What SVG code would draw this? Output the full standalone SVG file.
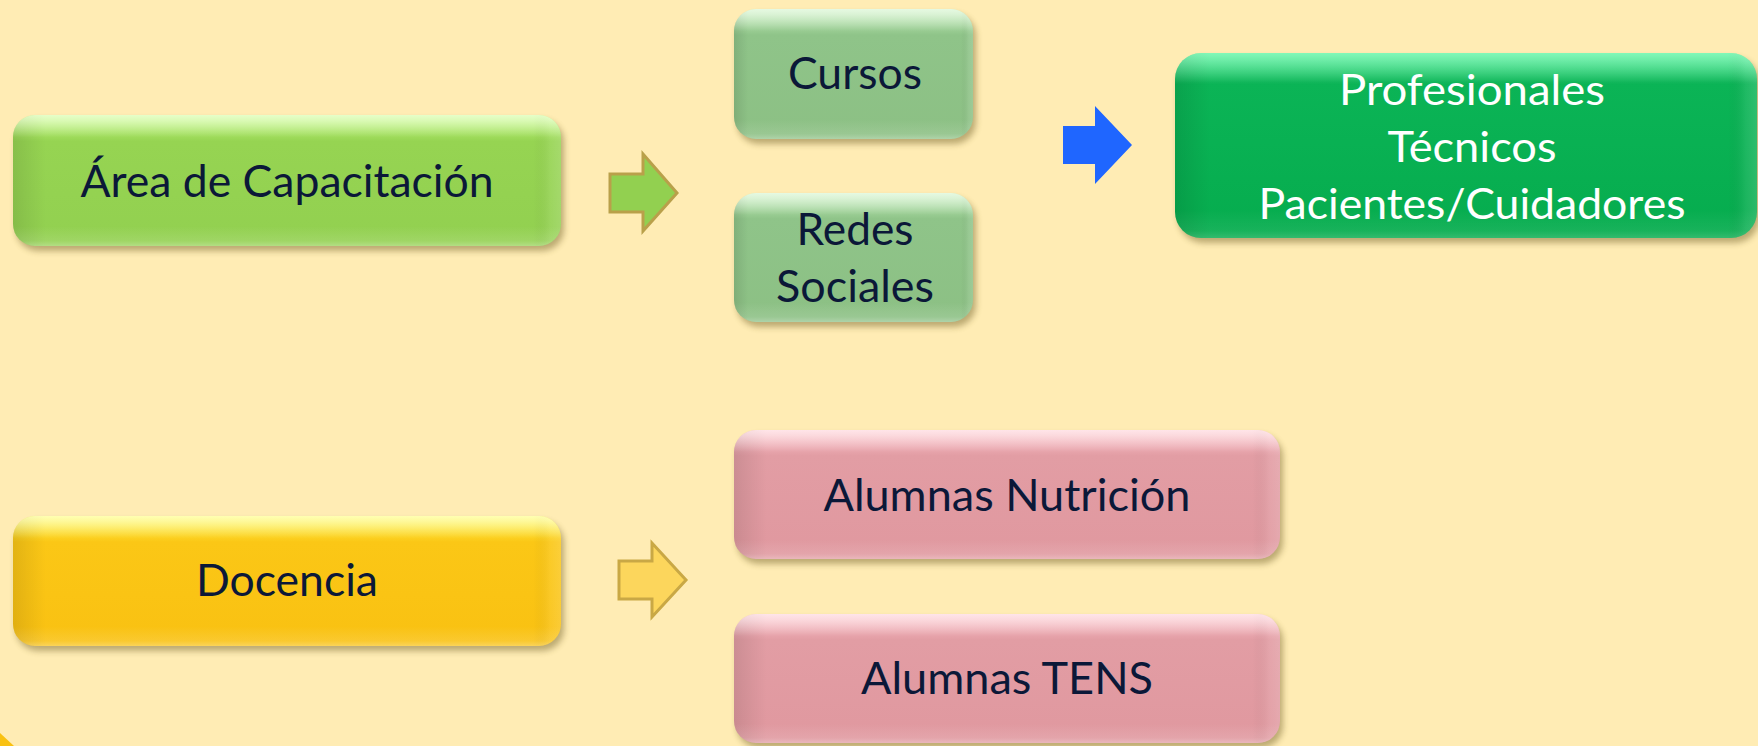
<svg xmlns="http://www.w3.org/2000/svg" width="1758" height="746" viewBox="0 0 1758 746">
<defs>
<filter id="sh" x="-10%" y="-10%" width="120%" height="130%">
<feGaussianBlur stdDeviation="3"/>
</filter>
<linearGradient id="vhi" x1="0" y1="0" x2="0" y2="1">
<stop offset="0" stop-color="#fff" stop-opacity="0.55"/>
<stop offset="0.04" stop-color="#fff" stop-opacity="0.45"/>
<stop offset="0.17" stop-color="#fff" stop-opacity="0"/>
<stop offset="0.85" stop-color="#fff" stop-opacity="0"/>
<stop offset="0.96" stop-color="#fff" stop-opacity="0.12"/>
<stop offset="1" stop-color="#fff" stop-opacity="0.3"/>
</linearGradient>
<linearGradient id="hsd" x1="0" y1="0" x2="1" y2="0">
<stop offset="0" stop-color="#000" stop-opacity="0.10"/>
<stop offset="0.035" stop-color="#000" stop-opacity="0.04"/>
<stop offset="0.06" stop-color="#000" stop-opacity="0"/>
<stop offset="0.95" stop-color="#000" stop-opacity="0"/>
<stop offset="0.98" stop-color="#fff" stop-opacity="0.08"/>
<stop offset="1" stop-color="#fff" stop-opacity="0.15"/>
</linearGradient>
<linearGradient id="gArea" x1="0" y1="0" x2="0" y2="1">
<stop offset="0" stop-color="#C8FF86"/><stop offset="0.2" stop-color="#96D452"/><stop offset="1" stop-color="#92D050"/>
</linearGradient>
<linearGradient id="gSoft" x1="0" y1="0" x2="0" y2="1">
<stop offset="0" stop-color="#C8F2BE"/><stop offset="0.2" stop-color="#8FC489"/><stop offset="1" stop-color="#8CC084"/>
</linearGradient>
<linearGradient id="gDark" x1="0" y1="0" x2="0" y2="1">
<stop offset="0" stop-color="#45F596"/><stop offset="0.16" stop-color="#0BB456"/><stop offset="1" stop-color="#06AC4E"/>
</linearGradient>
<linearGradient id="gYel" x1="0" y1="0" x2="0" y2="1">
<stop offset="0" stop-color="#FFFF55"/><stop offset="0.2" stop-color="#FBC716"/><stop offset="1" stop-color="#F9C112"/>
</linearGradient>
<linearGradient id="gPink" x1="0" y1="0" x2="0" y2="1">
<stop offset="0" stop-color="#FFC4CC"/><stop offset="0.2" stop-color="#E29DA4"/><stop offset="1" stop-color="#E0989F"/>
</linearGradient>
</defs>
<style>
.t{font-family:Lato,"Open Sans","Liberation Sans",sans-serif;font-size:44px;fill:#0B1838;text-anchor:middle}
.w{font-family:Lato,"Open Sans","Liberation Sans",sans-serif;font-size:43px;fill:#FFFFFF;text-anchor:middle}
.shd{fill:#6B5A20;opacity:0.45;filter:url(#sh)}
.hi{fill:url(#vhi)}
.sd{fill:url(#hsd)}
</style>
<rect width="1758" height="746" fill="#FFECB4"/>
<polygon points="0,733 14,746 0,746" fill="#F9C112"/>

<g id="area">
<rect class="shd" x="16" y="120" width="548" height="131" rx="22"/>
<rect x="13" y="115" width="548" height="131" rx="22" fill="url(#gArea)"/>
<rect class="sd" x="13" y="115" width="548" height="131" rx="22"/>
<rect class="hi" x="13" y="115" width="548" height="131" rx="22"/>
<text class="t" x="287" y="197" textLength="413" lengthAdjust="spacingAndGlyphs">Área de Capacitación</text>
</g>

<g id="cursos">
<rect class="shd" x="737" y="14" width="239" height="130" rx="22"/>
<rect x="734" y="9" width="239" height="130" rx="22" fill="url(#gSoft)"/>
<rect class="sd" x="734" y="9" width="239" height="130" rx="22"/>
<rect class="hi" x="734" y="9" width="239" height="130" rx="22"/>
<text class="t" x="855" y="89" textLength="134" lengthAdjust="spacingAndGlyphs">Cursos</text>
</g>

<g id="redes">
<rect class="shd" x="737" y="198" width="239" height="129" rx="22"/>
<rect x="734" y="193" width="239" height="129" rx="22" fill="url(#gSoft)"/>
<rect class="sd" x="734" y="193" width="239" height="129" rx="22"/>
<rect class="hi" x="734" y="193" width="239" height="129" rx="22"/>
<text class="t" x="855" y="245" textLength="117" lengthAdjust="spacingAndGlyphs">Redes</text>
<text class="t" x="855" y="302" textLength="158" lengthAdjust="spacingAndGlyphs">Sociales</text>
</g>

<g id="destinatarios">
<rect class="shd" x="1178" y="58" width="582" height="185" rx="26"/>
<rect x="1175" y="53" width="582" height="185" rx="26" fill="url(#gDark)"/>
<rect class="sd" x="1175" y="53" width="582" height="185" rx="26"/>
<rect class="hi" x="1175" y="53" width="582" height="185" rx="26" opacity="0.6"/>
<text class="w" x="1472" y="105" textLength="266" lengthAdjust="spacingAndGlyphs">Profesionales</text>
<text class="w" x="1472" y="162" textLength="169" lengthAdjust="spacingAndGlyphs">Técnicos</text>
<text class="w" x="1472" y="219" textLength="427" lengthAdjust="spacingAndGlyphs">Pacientes/Cuidadores</text>
</g>

<g id="docencia">
<rect class="shd" x="16" y="521" width="548" height="130" rx="22"/>
<rect x="13" y="516" width="548" height="130" rx="22" fill="url(#gYel)"/>
<rect class="sd" x="13" y="516" width="548" height="130" rx="22"/>
<rect class="hi" x="13" y="516" width="548" height="130" rx="22"/>
<text class="t" x="287" y="596" textLength="182" lengthAdjust="spacingAndGlyphs">Docencia</text>
</g>

<g id="nutricion">
<rect class="shd" x="737" y="435" width="546" height="129" rx="22"/>
<rect x="734" y="430" width="546" height="129" rx="22" fill="url(#gPink)"/>
<rect class="sd" x="734" y="430" width="546" height="129" rx="22"/>
<rect class="hi" x="734" y="430" width="546" height="129" rx="22"/>
<text class="t" x="1007" y="511" textLength="367" lengthAdjust="spacingAndGlyphs">Alumnas Nutrición</text>
</g>

<g id="tens">
<rect class="shd" x="737" y="619" width="546" height="129" rx="22"/>
<rect x="734" y="614" width="546" height="129" rx="22" fill="url(#gPink)"/>
<rect class="sd" x="734" y="614" width="546" height="129" rx="22"/>
<rect class="hi" x="734" y="614" width="546" height="129" rx="22"/>
<text class="t" x="1007" y="694" textLength="292" lengthAdjust="spacingAndGlyphs">Alumnas TENS</text>
</g>

<g id="connectors">
<polygon points="610,174 643,174 643,154 677,193 643,231 643,212 610,212" fill="#92D050" stroke="#B9A04A" stroke-width="3" stroke-linejoin="miter"/>
<polygon points="1063,126 1095,126 1095,106 1132,145 1095,184 1095,164 1063,164" fill="#1F66FF"/>
<polygon points="619,561 652,561 652,543 686,580 652,617 652,599 619,599" fill="#FCD65C" stroke="#C9A845" stroke-width="3" stroke-linejoin="miter"/>
</g>
</svg>
